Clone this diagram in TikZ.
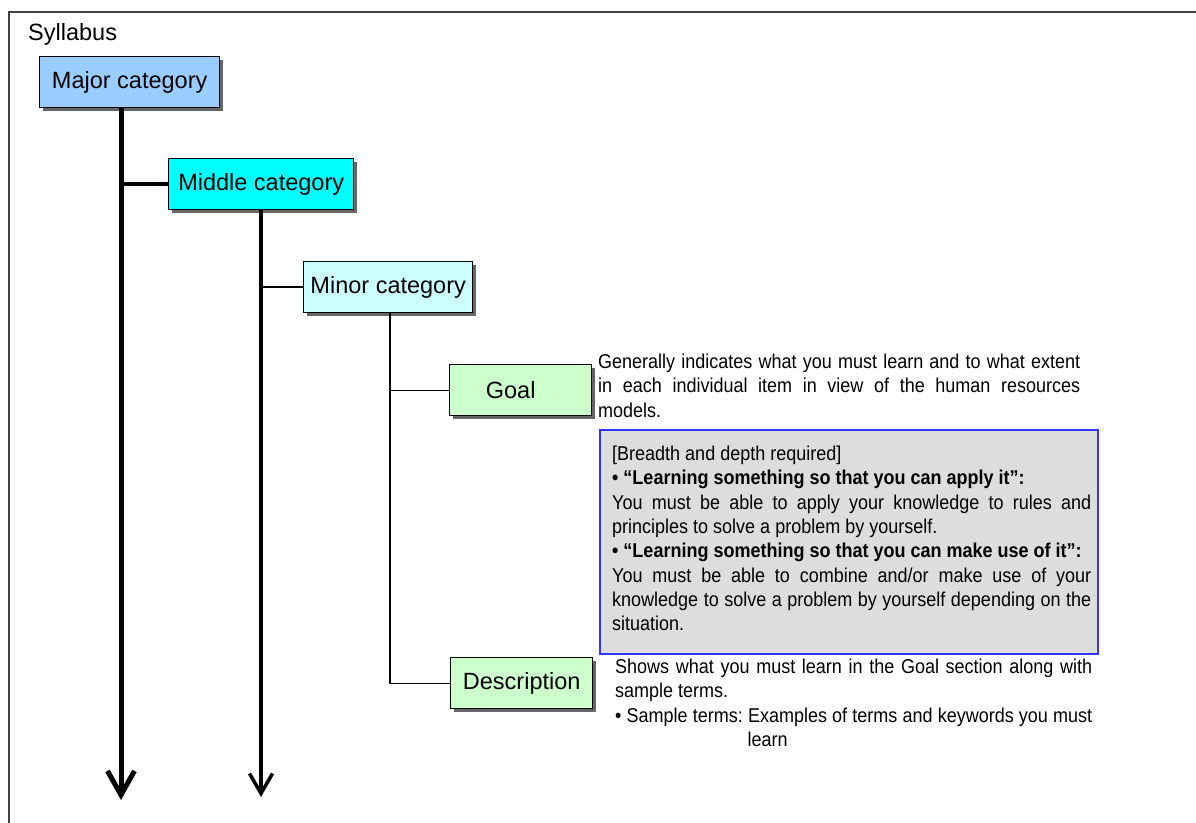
\documentclass[tikz,border=0pt]{standalone}
\usepackage{fontspec}
\usepackage{graphicx}
\setmainfont{Liberation Sans}
\usetikzlibrary{arrows.meta,shadows}
\definecolor{majorc}{HTML}{99CCFF}
\definecolor{middlec}{HTML}{00FFFF}
\definecolor{minorc}{HTML}{CCFFFF}
\definecolor{leafc}{HTML}{CCFFCC}
\definecolor{reqfill}{HTML}{DDDDDD}
\definecolor{reqline}{HTML}{3333FF}
\definecolor{framec}{HTML}{404040}
\newcommand{\jl}[1]{\par\noindent\scalebox{0.9}[1]{\hbox to 1.11111\hsize{\spaceskip=0pt\xspaceskip=0pt\strut #1}}\par}
\newcommand{\nl}[1]{\par\noindent\scalebox{0.9}[1]{\hbox{\spaceskip=0pt\xspaceskip=0pt\strut #1}}\par}
\tikzset{
  catbox/.style={draw=black, line width=1.4pt, minimum height=51pt, inner sep=0pt,
    anchor=north west, font=\fontsize{23.5}{28}\selectfont,
    drop shadow={shadow xshift=3.5pt, shadow yshift=-3.5pt, fill=black!60, opacity=1}},
  bodytext/.style={anchor=north west, inner sep=0pt, align=left,
    font=\fontsize{20}{24.3}\selectfont},
  lvlone/.style={line width=5pt},
  lvltwo/.style={line width=3.5pt},
  lvlthree/.style={line width=2.4pt},
  lvlfour/.style={line width=1.3pt},
}
\begin{document}
\begin{tikzpicture}[x=1pt,y=-1pt]
\useasboundingbox (0,0) rectangle (1196,822);
\clip (0,0) rectangle (1196,822);
\draw[line width=2pt, draw=framec] (8.5,830) -- (8.5,11.5) -- (1200,11.5);

\node[anchor=base west, inner sep=0pt, font=\fontsize{23.5}{28}\selectfont] (syl) at (28,40) {Syllabus};

\node[catbox, fill=majorc, minimum width=180pt] (major) at (39,56) {Major category};
\node[catbox, fill=middlec, minimum width=185pt] (middle) at (168,158) {Middle category};
\node[catbox, fill=minorc, minimum width=169pt] (minor) at (303,261) {Minor category};
\node[catbox, fill=leafc, minimum width=142pt] (goal) at (449,364) {Goal\hspace*{20pt}};
\node[catbox, fill=leafc, minimum width=142pt] (desc) at (450,657) {Description};

\coordinate (majorEnd) at (121,800);
\coordinate (middleEnd) at (261,797);
\coordinate (minorX) at (390,0);

\draw[lvlone, -{Straight Barb[length=24pt,width=27pt]}] (major.south -| majorEnd) -- (majorEnd);
\draw[lvltwo] (middle.west -| majorEnd) -- (middle.west);
\draw[lvltwo, -{Straight Barb[length=20pt,width=23pt]}] (middle.south -| middleEnd) -- (middleEnd);
\draw[lvlthree] (minor.west -| middleEnd) -- (minor.west);
\draw[lvlfour] (minor.south -| minorX) -- (desc.west -| minorX) -- (desc.west);
\draw[lvlfour] (goal.west -| minorX) -- (goal.west);

\node[bodytext, text width=482pt] (goaltext) at (598,344) {%
\jl{Generally indicates what you must learn and to what extent}%
\jl{in each individual item in view of the human resources}%
\nl{models.}};

\node[draw=reqline, fill=reqfill, line width=1.8pt, anchor=north west, inner sep=0pt,
  minimum width=498pt, minimum height=224pt] (req) at (599,429) {};
\node[bodytext, text width=479pt] (reqtext) at (612,436) {%
\nl{[Breadth and depth required]}%
\nl{\bfseries • “Learning something so that you can apply it”:}%
\jl{You must be able to apply your knowledge to rules and}%
\nl{principles to solve a problem by yourself.}%
\nl{\bfseries • “Learning something so that you can make use of it”:}%
\jl{You must be able to combine and/or make use of your}%
\jl{knowledge to solve a problem by yourself depending on the}%
\nl{situation.}};

\node[bodytext, text width=477pt] (desctext) at (615,649) {%
\jl{Shows what you must learn in the Goal section along with}%
\nl{sample terms.}%
\jl{• Sample terms:\ Examples of terms and keywords you must}%
\nl{\phantom{• Sample terms:\ }learn}};
\end{tikzpicture}
\end{document}
